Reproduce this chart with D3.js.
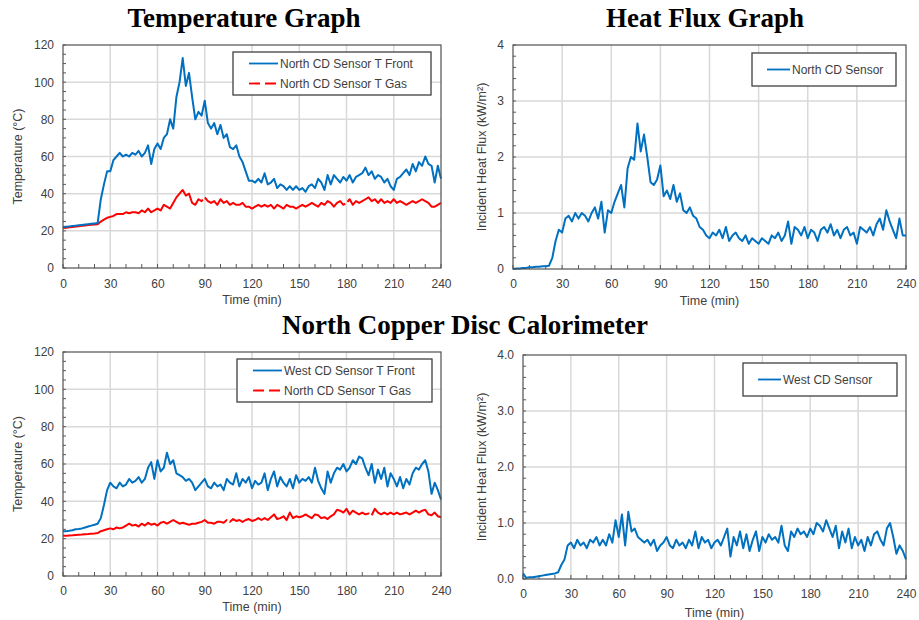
<!DOCTYPE html>
<html>
<head>
<meta charset="utf-8">
<script src="https://cdn.jsdelivr.net/npm/d3@7.9.0/dist/d3.min.js"></script>
<style>
  body { margin: 0; background: #fff; }
  svg { display: block; font-family: 'Liberation Sans', Arial, sans-serif; }
  .title { font-family: 'Liberation Serif', 'Times New Roman', serif; font-weight: bold; font-size: 27px; fill: #000; }
  .tick text { font-size: 12px; fill: #404040; }
  .axis-title { font-size: 12.5px; fill: #404040; }
  .legend text { font-size: 12px; fill: #404040; }
</style>
</head>
<body>
<svg id="chart" width="919" height="620"></svg>
<script>
// sample times (min), one reading every 2 minutes
const time = d3.range(0, 241, 2);

// North CD sensor, front temperature (°C)
const northFront = [
  22, 22.2, 22.4, 22.6, 22.8, 23, 23.2, 23.4, 23.6, 23.8, 24, 24.2,
  37, 45, 52, 52, 58, 60, 62, 60, 61, 60, 62, 61, 63, 60, 62, 66, 56, 64,
  67, 64, 70, 72, 80, 75, 92, 100, 113, 98, 105, 92, 80, 84, 82, 90,
  78, 75, 78, 72, 77, 70, 72, 65, 64, 66, 60, 57, 52, 47,
  47, 46, 48, 46, 51, 45, 46, 48, 43, 45, 44, 42, 44, 42, 44,
  42, 43, 41, 44, 45, 43, 48, 46, 42, 50, 45, 50, 48, 46, 49,
  47, 50, 46, 49, 50, 51, 54, 50, 52, 48, 50, 49, 46, 48, 44,
  42, 48, 49, 51, 53, 50, 56, 52, 57, 55, 60, 56, 55, 46, 55, 48
];
// North CD sensor, gas temperature (°C), top panel
const northGasA = [
  21.5, 21.7, 21.9, 22.1, 22.3, 22.5, 22.7, 22.9, 23.1, 23.3, 23.4, 23.5,
  25, 26, 27, 27.5, 28, 29, 29, 29, 30, 29.5, 30, 30, 29.5, 31, 30, 32, 30, 31,
  32, 31, 34, 33, 32, 35, 38, 40, 42, 39, 40, 35, 34, 37, 36, 38,
  36, 35, 36, 34, 37, 35, 36, 34, 35, 34, 34, 35, 33, 33,
  32, 33, 34, 33, 34, 33, 34, 32, 34, 33, 32, 34, 33, 33, 32,
  33, 34, 33, 34, 35, 34, 33, 35, 34, 36, 35, 33, 35, 36, 34,
  35, 37, 34, 36, 35, 36, 37, 38, 36, 37, 35, 37, 35, 36, 35,
  37, 35, 36, 35, 34, 35, 36, 35, 36, 37, 36, 35, 33, 33, 34, 35
];
// North CD sensor, incident heat flux (kW/m²)
const northFlux = [
  0, 0.01, 0.01, 0.02, 0.02, 0.03, 0.03, 0.04, 0.04, 0.05, 0.05, 0.06,
  0.2, 0.5, 0.7, 0.65, 0.9, 0.95, 0.85, 1.0, 0.9, 1.0, 0.95, 0.85, 1.0, 1.1, 0.9, 1.2, 0.65, 1.05,
  1.0, 1.2, 1.35, 1.5, 1.1, 1.8, 2.0, 1.95, 2.6, 2.1, 2.4, 2.0, 1.55, 1.5, 1.6, 1.85,
  1.3, 1.4, 1.25, 1.5, 1.2, 1.35, 1.05, 1.0, 1.1, 0.95, 0.9, 0.75, 0.7, 0.6,
  0.55, 0.65, 0.6, 0.7, 0.55, 0.75, 0.5, 0.6, 0.65, 0.55, 0.5, 0.6, 0.45, 0.55, 0.5,
  0.45, 0.55, 0.5, 0.45, 0.6, 0.55, 0.65, 0.5, 0.6, 0.85, 0.45, 0.75, 0.7, 0.6, 0.75,
  0.55, 0.7, 0.65, 0.5, 0.7, 0.75, 0.65, 0.8, 0.6, 0.7, 0.55, 0.7, 0.75, 0.6, 0.65,
  0.45, 0.75, 0.7, 0.65, 0.75, 0.6, 0.8, 0.9, 0.7, 1.05, 0.85, 0.7, 0.55, 0.9, 0.6, 0.6
];
// West CD sensor, front temperature (°C)
const westFront = [
  24, 24, 24.2, 24.5, 25, 25.2, 25.5, 26, 26.5, 27, 27.5, 28,
  31, 38, 46, 50, 48, 47, 50, 48, 49, 52, 50, 51, 53, 50, 52, 58, 61, 52,
  62, 56, 58, 66, 60, 62, 55, 54, 53, 51, 52, 50, 46, 48, 50, 52,
  48, 47, 50, 48, 49, 46, 52, 50, 49, 55, 48, 52, 50, 53,
  47, 51, 49, 50, 55, 46, 52, 56, 48, 53, 50, 48, 52, 47, 54,
  50, 52, 51, 53, 50, 58, 51, 47, 44, 56, 50, 55, 58, 57, 60,
  56, 58, 62, 60, 64, 63, 58, 54, 60, 50, 57, 52, 58, 48, 55,
  52, 48, 53, 47, 52, 49, 55, 58, 57, 60, 62, 56, 44, 50, 46, 41
];
// North CD sensor, gas temperature (°C), bottom panel
const northGasB = [
  21.5, 21.6, 21.7, 21.8, 22, 22.1, 22.2, 22.4, 22.5, 22.7, 22.8, 23,
  24, 24.5, 25, 25.5, 25, 26, 25.5, 26, 27, 28, 27, 27.5, 26.5, 28, 27, 28.5, 27.5, 28,
  27, 28.5, 29, 28, 29, 30, 29, 28, 28.5, 28, 27.5, 28, 28, 28.5, 29, 30,
  28.5, 28.5, 28, 29, 29, 28.5, 30, 29, 30.5, 29.5, 30, 29, 30, 30.5,
  29.5, 30, 31, 30, 31, 30, 31.5, 33, 30.5, 31, 32, 30, 34, 31, 32,
  31.5, 32, 33, 32, 31, 33, 32.5, 31, 31.5, 30.5, 32, 33, 35.5, 35, 34,
  36, 33, 35, 34, 33, 34, 33, 33.5, 32.5, 36, 34, 33, 34, 33, 34,
  33, 34, 33, 33.5, 34, 33, 34, 35, 34, 35, 35.5, 33, 32.5, 34, 32, 31.5
];
// West CD sensor, incident heat flux (kW/m²)
const westFlux = [
  0.1, 0.02, 0.03, 0.03, 0.04, 0.05, 0.06, 0.07, 0.08, 0.09, 0.1, 0.12,
  0.25, 0.35, 0.6, 0.65, 0.55, 0.7, 0.6, 0.65, 0.55, 0.7, 0.65, 0.75, 0.6, 0.7, 0.6, 0.8, 0.65, 1.05,
  0.75, 1.15, 0.6, 1.2, 0.85, 0.9, 0.75, 0.7, 0.65, 0.7, 0.6, 0.7, 0.5, 0.6, 0.65, 0.75,
  0.6, 0.55, 0.7, 0.6, 0.65, 0.55, 0.7, 0.6, 0.85, 0.55, 0.75, 0.65, 0.7, 0.55,
  0.65, 0.7, 0.6, 0.75, 0.9, 0.4, 0.75, 0.6, 0.85, 0.55, 0.8, 0.5, 0.7, 0.85, 0.5,
  0.75, 0.65, 0.8, 0.7, 0.75, 0.65, 0.95, 0.6, 0.5, 0.85, 0.75, 0.9, 0.8, 0.85, 0.75,
  0.9, 0.8, 1.0, 0.95, 0.85, 1.05, 0.9, 0.75, 0.95, 0.55, 0.85, 0.65, 0.9, 0.55, 0.75,
  0.6, 0.7, 0.5, 0.75, 0.6, 0.8, 0.85, 0.7, 0.6, 0.9, 1.0, 0.75, 0.45, 0.6, 0.5, 0.35
];

const xTicks = [0, 30, 60, 90, 120, 150, 180, 210, 240];
const tempTicks = [0, 20, 40, 60, 80, 100, 120];
const fluxTicks = [0, 1, 2, 3, 4];

const titles = [
  { text: 'Temperature Graph', x: 244, y: 27 },
  { text: 'Heat Flux Graph', x: 705, y: 27 },
  { text: 'North Copper Disc Calorimeter', x: 465, y: 334 }
];

const BLUE = '#0070c0';
const RED = '#ff0000';

const panels = [
  {
    left: 63, top: 45, width: 378, height: 223,
    yMax: 120, yTicks: tempTicks, yMinor: 5, yFmt: d3.format('d'),
    yLabel: 'Temperature (°C)', yLabelX: 22, xLabelY: 304, tickY: 288,
    series: [
      { name: 'North CD Sensor T Front', values: northFront, color: BLUE, dash: null },
      { name: 'North CD Sensor T Gas', values: northGasA, color: RED, dash: '180,3' }
    ],
    legend: { x: 170, y: 7, w: 198, h: 43 }
  },
  {
    left: 513, top: 45, width: 393, height: 224,
    yMax: 4, yTicks: fluxTicks, yMinor: 0.2, yFmt: d3.format('d'),
    yLabel: 'Incident Heat Flux (kW/m²)', yLabelX: 486, xLabelY: 305, tickY: 288,
    series: [
      { name: 'North CD Sensor', values: northFlux, color: BLUE, dash: null }
    ],
    legend: { x: 239, y: 8, w: 144, h: 33 }
  },
  {
    left: 63, top: 352, width: 378, height: 224,
    yMax: 120, yTicks: tempTicks, yMinor: 5, yFmt: d3.format('d'),
    yLabel: 'Temperature (°C)', yLabelX: 22, xLabelY: 611, tickY: 595,
    series: [
      { name: 'West CD Sensor T Front', values: westFront, color: BLUE, dash: null },
      { name: 'North CD Sensor T Gas', values: northGasB, color: RED, dash: '180,3' }
    ],
    legend: { x: 174, y: 7, w: 195, h: 43 }
  },
  {
    left: 523, top: 355, width: 383, height: 224,
    yMax: 4, yTicks: fluxTicks, yMinor: 0.2, yFmt: d3.format('.1f'),
    yLabel: 'Incident Heat Flux (kW/m²)', yLabelX: 486, xLabelY: 617, tickY: 598,
    series: [
      { name: 'West CD Sensor', values: westFlux, color: BLUE, dash: null }
    ],
    legend: { x: 220, y: 8, w: 154, h: 33 }
  }
];

const svg = d3.select('#chart');

svg.selectAll('text.title')
  .data(titles)
  .join('text')
  .attr('class', 'title')
  .attr('x', d => d.x)
  .attr('y', d => d.y)
  .attr('text-anchor', 'middle')
  .text(d => d.text);

panels.forEach(drawPanel);

function drawPanel(p) {
  const g = svg.append('g').attr('transform', `translate(${p.left},${p.top})`);
  const x = d3.scaleLinear().domain([0, 240]).range([0, p.width]);
  const y = d3.scaleLinear().domain([0, p.yMax]).range([p.height, 0]);

  // grid
  g.append('g')
    .selectAll('line')
    .data(xTicks.slice(1, -1))
    .join('line')
    .attr('x1', d => x(d)).attr('x2', d => x(d))
    .attr('y1', 0).attr('y2', p.height)
    .attr('stroke', '#d9d9d9').attr('stroke-width', 1.5);
  g.append('g')
    .selectAll('line')
    .data(p.yTicks.slice(1, -1))
    .join('line')
    .attr('x1', 0).attr('x2', p.width)
    .attr('y1', d => y(d)).attr('y2', d => y(d))
    .attr('stroke', '#d9d9d9').attr('stroke-width', 1.5);

  // minor ticks (inside)
  const yMinor = d3.range(0, p.yMax + p.yMinor / 2, p.yMinor);
  g.append('g')
    .selectAll('line')
    .data(yMinor)
    .join('line')
    .attr('x1', 0).attr('x2', 3)
    .attr('y1', d => y(d)).attr('y2', d => y(d))
    .attr('stroke', '#595959');
  g.append('g')
    .selectAll('line')
    .data(d3.range(0, 241, 10))
    .join('line')
    .attr('x1', d => x(d)).attr('x2', d => x(d))
    .attr('y1', p.height).attr('y2', p.height - 4)
    .attr('stroke', '#595959');

  // series
  const line = d3.line()
    .x((d, i) => x(time[i]))
    .y(d => y(d));

  p.series.slice().reverse().forEach(s => {
    g.append('path')
      .datum(s.values)
      .attr('d', line)
      .attr('fill', 'none')
      .attr('stroke', s.color)
      .attr('stroke-width', 2)
      .attr('stroke-linejoin', 'round')
      .attr('stroke-dasharray', s.dash);
  });

  // frame
  g.append('rect')
    .attr('width', p.width).attr('height', p.height)
    .attr('fill', 'none').attr('stroke', '#505050').attr('stroke-width', 1.2);

  // tick labels via d3 axes
  const xAxis = d3.axisBottom(x).tickValues(xTicks).tickSize(0).tickPadding(10);
  g.append('g')
    .attr('transform', `translate(0,${p.height})`)
    .call(xAxis)
    .call(a => a.select('.domain').remove())
    .selectAll('text').attr('dy', null).attr('y', p.tickY - p.top - p.height);

  const yAxis = d3.axisLeft(y).tickValues(p.yTicks).tickFormat(p.yFmt).tickSize(0).tickPadding(9);
  g.append('g')
    .call(yAxis)
    .call(a => a.select('.domain').remove());

  g.append('text')
    .attr('class', 'axis-title')
    .attr('x', p.width / 2)
    .attr('y', p.xLabelY - p.top)
    .attr('text-anchor', 'middle')
    .text('Time (min)');

  g.append('text')
    .attr('class', 'axis-title')
    .attr('transform', `translate(${p.yLabelX - p.left},${p.height / 2}) rotate(-90)`)
    .attr('text-anchor', 'middle')
    .text(p.yLabel);

  // legend
  const L = p.legend;
  const lg = g.append('g').attr('class', 'legend').attr('transform', `translate(${L.x},${L.y})`);
  lg.append('rect')
    .attr('width', L.w).attr('height', L.h)
    .attr('fill', '#fff').attr('stroke', '#404040').attr('stroke-width', 1.3);
  const rowH = 20;
  const startY = L.h / 2 - (p.series.length - 1) * rowH / 2;
  const items = lg.selectAll('g.item')
    .data(p.series)
    .join('g')
    .attr('class', 'item')
    .attr('transform', (d, i) => `translate(0,${startY + i * rowH})`);
  const sampleX = p.series.length > 1 ? 16 : 15;
  const sampleW = p.series.length > 1 ? 29 : 23;
  items.append('line')
    .attr('x1', sampleX).attr('x2', sampleX + sampleW)
    .attr('stroke', d => d.color).attr('stroke-width', 1.8)
    .attr('stroke-dasharray', d => d.dash ? '11,5' : null);
  items.append('text')
    .attr('x', sampleX + sampleW + 2)
    .attr('dy', '0.35em')
    .text(d => d.name);
}
</script>
</body>
</html>
